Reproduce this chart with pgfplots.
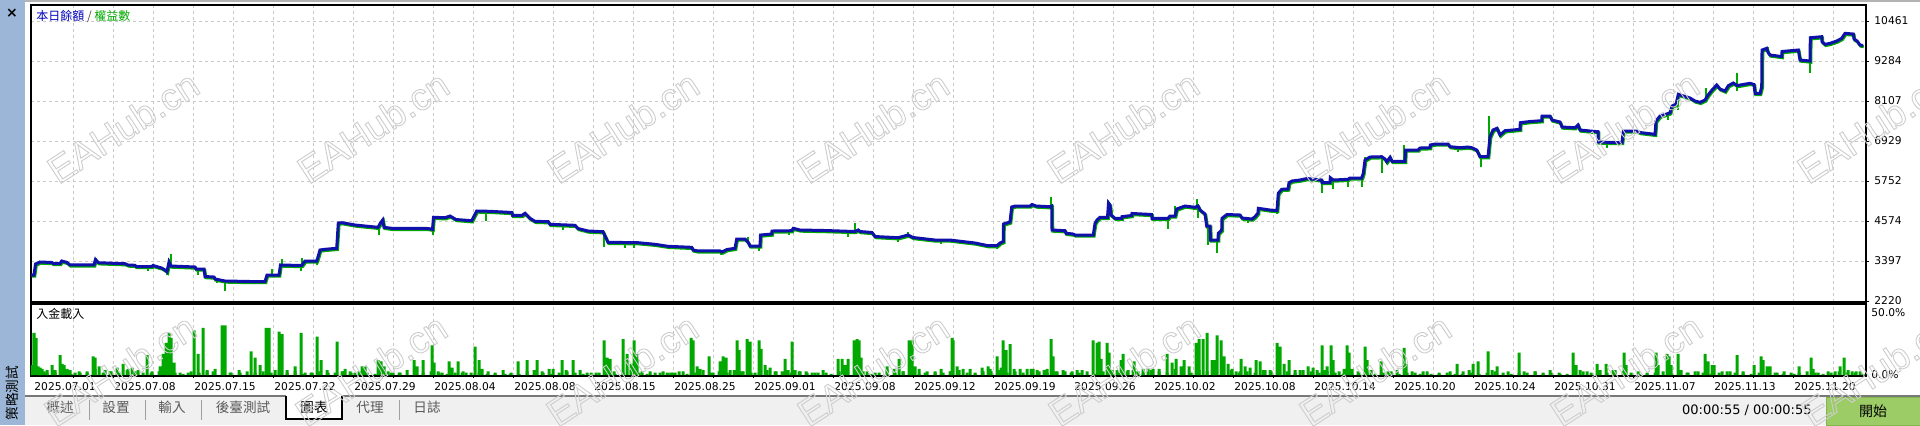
\documentclass[border=0pt]{standalone}
\usepackage{fontspec}
\setmainfont{DejaVu Sans}
\newfontfamily\cjk{Noto Sans CJK TC}
\newfontfamily\wmfont{Liberation Sans}
\usepackage{pgfplots}
\usepackage{pgfplotstable}
\pgfplotsset{compat=1.18}
\definecolor{balblue}{RGB}{16,16,170}
\definecolor{eqgreen}{RGB}{0,168,0}
\definecolor{gridc}{RGB}{200,200,200}
\definecolor{sidebar}{RGB}{155,182,214}
\definecolor{tabbg}{RGB}{240,240,240}
\definecolor{tabline}{RGB}{120,120,120}
\definecolor{tabtext}{RGB}{90,90,90}
\definecolor{sepgray}{RGB}{160,160,160}
\definecolor{btngreen}{RGB}{156,204,101}
\definecolor{btnborder}{RGB}{130,180,80}
\definecolor{wm}{RGB}{205,205,205}
\definecolor{titleblue}{RGB}{0,0,190}
\newcommand\tickfont{\fontsize{5.35}{6}\selectfont}
\newcommand\wmtext{\special{pdf:literal direct 1 Tr 0.45 w}EAHub.cn}

\pgfplotstableread{
x v
0 2985
3 2985
4.5 3309
9 3368
21 3353
22 3324
29 3324
30.7 3397
35.7 3359
39 3280
63 3280
64.5 3441
67.3 3347
94 3318
97 3280
104 3271
105 3235
120.7 3235
122 3265
130.7 3191
134 3132
136 3082
138 3368
140 3250
164 3221
165 3162
173 3162
174 2941
183 2926
184 2867
194 2809
219 2794
234 2794
236 2985
248 2985
249.5 3280
270.7 3265
274 3397
285.7 3397
287.3 3544
289 3721
294 3742
305.7 3771
307.3 4516
311 4525
324 4457
334 4427
347 4389
349.5 4516
351.7 4604
353 4389
361 4359
397 4354
401.5 4330
402.5 4683
414 4672
419 4722
425 4619
440.7 4583
445.7 4869
459 4860
480.7 4825
481.5 4742
490.7 4737
494 4801
499 4654
504 4566
517.3 4554
519 4477
544 4448
547 4354
557 4280
572 4260
575 4074
577 3948
607 3936
624 3889
637 3830
660.7 3800
662 3721
667 3692
689 3692
691 3662
696 3736
704 3771
705.7 4045
714 4045
717 3956
719 3839
729 3839
729.5 4162
740.7 4192
741 4280
760.7 4289
762.3 4360
769 4310
794 4295
824 4265
827.3 4310
829 4265
841 4236
844 4118
867 4083
877 4162
882 4089
904 4015
919 4015
927 3986
944 3927
957 3848
966 3848
969 3927
972.3 3971
972.5 4486
979 4545
980.7 4987
984 5016
999 5016
1001 5060
1005 5016
1019 4995
1020.7 5016
1021 4310
1034 4289
1035 4213
1042 4192
1044 4162
1062.3 4162
1064 4507
1066 4604
1069 4683
1076.5 4683
1077.5 5104
1079 5045
1080 4751
1084 4654
1090.7 4654
1091 4702
1100.7 4737
1101 4796
1120.7 4766
1121 4654
1137 4654
1139 4722
1144 4722
1145.7 4928
1154 5016
1164 4978
1167 5016
1169 4898
1174 4781
1175.7 4427
1179 4427
1179.5 4015
1187 4015
1187.3 4213
1190.7 4310
1191 4654
1196 4766
1209 4751
1211 4663
1221 4633
1224 4702
1227 4810
1227.3 4948
1239 4898
1246 4884
1247.3 5390
1250.7 5508
1257 5516
1258 5702
1261 5752
1269 5781
1276 5825
1290.7 5781
1291 5708
1299 5708
1299.3 5849
1302.3 5781
1317 5802
1319 5840
1330.7 5840
1332.3 5978
1334 6370
1339 6458
1350.7 6467
1354 6399
1355.7 6320
1359 6449
1361 6332
1374 6332
1374.5 6664
1387 6664
1389 6723
1399 6732
1399.3 6811
1404 6841
1417 6841
1419 6762
1429 6732
1437 6752
1440.7 6732
1445.7 6664
1449 6467
1457 6467
1459 7056
1462 7253
1466 7303
1469 7106
1474 7232
1489 7273
1489.3 7468
1499 7503
1510.7 7527
1511 7665
1519 7665
1521 7547
1529 7488
1531 7341
1544 7320
1547 7400
1549 7253
1559 7223
1567 7203
1567.3 6900
1584 6885
1591 6885
1592.3 7223
1605.7 7223
1609 7179
1624 7126
1625 7518
1629 7665
1635.7 7724
1639 7762
1641 7959
1645 8009
1647.3 8304
1651 8268
1659 8195
1664 8106
1669 8068
1674 8136
1677 8283
1681 8430
1685.7 8577
1689 8459
1694 8400
1697.3 8557
1702.3 8636
1706 8562
1719 8627
1723 8592
1724 8333
1729 8333
1730.7 8527
1731 9607
1735.7 9657
1737 9540
1739 9460
1750.7 9416
1751 9563
1767.3 9607
1769 9313
1779 9284
1779.3 9969
1790.7 9999
1791 9852
1794 9775
1799 9804
1805.7 9872
1810.7 9951
1814 10098
1822.3 10078
1823 9931
1826 9872
1829 9754
1832 9740
}\balance

\begin{document}
\begin{tikzpicture}
\useasboundingbox (0,0) rectangle (960pt,-212.5pt);
\clip (0,0) rectangle (960pt,-212.5pt);
\fill[white] (0,0) rectangle (960pt,-212.5pt);
\fill[gray!60] (12.5pt,0) rectangle (960pt,-1pt);
\fill[sidebar] (0,0) rectangle (12.5pt,-212.5pt);
\node at (6pt,-6.5pt) {\fontsize{7}{7}\selectfont\bfseries ×};
\node[rotate=90] at (6pt,-196.5pt) {\cjk\fontsize{6.8}{7}\selectfont 策略測試};
% tab bar
\fill[tabbg] (12.5pt,-198pt) rectangle (960pt,-212.5pt);
\draw[tabline, line width=0.6pt] (12.5pt,-198pt) -- (960pt,-198pt);
\fill[white] (143pt,-197.7pt) rectangle (171pt,-209.5pt);
\draw[black, line width=0.7pt] (143pt,-198pt) -- (143pt,-209.5pt) -- (171pt,-209.5pt) -- (171pt,-198pt);
\foreach \sx in {44.5,72.5,100.5,199.5} {\draw[sepgray, line width=0.5pt] (\sx pt,-200pt) -- (\sx pt,-210pt);}
\begin{scope}[every node/.style={font=\cjk\fontsize{6.8}{7}\selectfont, text=tabtext}]
\node at (30pt,-203.5pt) {概述};
\node at (58pt,-203.5pt) {設置};
\node at (86pt,-203.5pt) {輸入};
\node at (121.5pt,-203.5pt) {後臺測試};
\node[text=black] at (157pt,-203.5pt) {圖表};
\node at (185pt,-203.5pt) {代理};
\node at (213.5pt,-203.5pt) {日誌};
\end{scope}
\node[anchor=east, inner sep=0pt] at (906pt,-205pt) {\fontsize{6.5}{7}\selectfont 00:00:55 / 00:00:55};
\fill[btngreen] (913pt,-198.5pt) rectangle (960pt,-212.5pt);
\draw[btnborder, line width=0.5pt] (913pt,-198.5pt) rectangle (960pt,-212.5pt);
\node at (936.5pt,-205.5pt) {\cjk\fontsize{7}{8}\selectfont 開始};

\begin{axis}[
 at={(15.5pt,-151pt)}, anchor=south west,
 width=917.5pt, height=148.5pt, scale only axis,
 xmin=0, xmax=1835, ymin=2190.5, ymax=10931.8,
 axis line style={line width=0.6pt},
 xtick={42,82,...,1802}, xmajorticks=false, xmajorgrids=true,
 ytick={2220,3397.3,4574.6,5751.9,6929.1,8106.4,9283.7,10461},
 yticklabels={2220,3397,4574,5752,6929,8107,9284,10461},
 ymajorgrids=true,
 ytick pos=right, yticklabel pos=right,
 tick align=outside, major tick length=1.5pt,
 every tick/.style={black, line width=0.5pt},
 major grid style={gridc, dash pattern=on 1.5pt off 1.5pt, line width=0.5pt},
 yticklabel style={anchor=west, inner sep=0pt, xshift=2.5pt, font=\tickfont},
 clip=true,
]
\addplot[eqgreen, line width=1.5pt, xshift=0.4pt, yshift=-0.6pt] table[x=x, y=v] {\balance};
\addplot[eqgreen, line width=1pt, unbounded coords=jump] coordinates {
(2.3,2985) (2.3,2917) (2.3,nan)
(24.7,3353) (24.7,3250) (24.7,nan)
(64.7,3300) (64.7,3477) (64.7,nan)
(117.3,3235) (117.3,3103) (117.3,nan)
(135.7,3100) (135.7,2985) (135.7,nan)
(139.7,3300) (139.7,3603) (139.7,nan)
(166.7,3162) (166.7,2985) (166.7,nan)
(185.7,2850) (185.7,2759) (185.7,nan)
(194,2809) (194,2523) (194,nan)
(227.3,2794) (227.3,2720) (227.3,nan)
(240.7,2985) (240.7,3153) (240.7,nan)
(250.7,3280) (250.7,3447) (250.7,nan)
(270,3265) (270,3103) (270,nan)
(271.3,3300) (271.3,3477) (271.3,nan)
(286.3,3400) (286.3,3280) (286.3,nan)
(348.3,4389) (348.3,4162) (348.3,nan)
(401.7,4162) (401.7,4722) (401.7,nan)
(455,4860) (455,4583) (455,nan)
(531.7,4448) (531.7,4310) (531.7,nan)
(573.3,4260) (573.3,3818) (573.3,nan)
(594,3936) (594,3771) (594,nan)
(603.3,3936) (603.3,3771) (603.3,nan)
(690,3692) (690,3574) (690,nan)
(717.3,3956) (717.3,4112) (717.3,nan)
(728,3839) (728,3700) (728,nan)
(758,4289) (758,4162) (758,nan)
(816.7,4265) (816.7,4095) (816.7,nan)
(824,4265) (824,4507) (824,nan)
(867.3,4083) (867.3,3948) (867.3,nan)
(877.3,4162) (877.3,4245) (877.3,nan)
(910,4015) (910,3897) (910,nan)
(965.7,3848) (965.7,3742) (965.7,nan)
(1020,5000) (1020,5272) (1020,nan)
(1078,5060) (1078,5143) (1078,nan)
(1136.7,4654) (1136.7,4330) (1136.7,nan)
(1144,4722) (1144,5016) (1144,nan)
(1165.7,4990) (1165.7,5213) (1165.7,nan)
(1166.7,5016) (1166.7,4654) (1166.7,nan)
(1176.7,4427) (1176.7,3868) (1176.7,nan)
(1186.3,4015) (1186.3,3642) (1186.3,nan)
(1217.3,4640) (1217.3,4507) (1217.3,nan)
(1245.7,4884) (1245.7,4781) (1245.7,nan)
(1291.3,5708) (1291.3,5390) (1291.3,nan)
(1302.3,5781) (1302.3,5508) (1302.3,nan)
(1316.7,5802) (1316.7,5585) (1316.7,nan)
(1331.3,5840) (1331.3,5585) (1331.3,nan)
(1334,6370) (1334,6467) (1334,nan)
(1351.3,6467) (1351.3,5978) (1351.3,nan)
(1373.3,6332) (1373.3,6811) (1373.3,nan)
(1427.3,6732) (1427.3,6614) (1427.3,nan)
(1450,6467) (1450,6155) (1450,nan)
(1458,6467) (1458,7665) (1458,nan)
(1575.7,6885) (1575.7,6714) (1575.7,nan)
(1637.3,7724) (1637.3,7547) (1637.3,nan)
(1647.3,8009) (1647.3,7841) (1647.3,nan)
(1675,8136) (1675,8480) (1675,nan)
(1705.7,8400) (1705.7,8921) (1705.7,nan)
(1737.3,9540) (1737.3,9706) (1737.3,nan)
(1779,9284) (1779,8921) (1779,nan)
};
\addplot[balblue, line width=1.5pt] table[x=x, y=v] {\balance};
\end{axis}

\fill[white] (12.5pt,-151.75pt) rectangle (960pt,-197.6pt);

\begin{axis}[
 at={(15.5pt,-188pt)}, anchor=south west,
 width=917.5pt, height=36pt, scale only axis,
 xmin=0, xmax=1835, ymin=-0.8, ymax=57.3,
 axis line style={line width=0.6pt},
 xtick={2,82,...,1762},
 xticklabels={2025.07.01,2025.07.08,2025.07.15,2025.07.22,2025.07.29,2025.08.04,2025.08.08,2025.08.15,2025.08.25,2025.09.01,2025.09.08,2025.09.12,2025.09.19,2025.09.26,2025.10.02,2025.10.08,2025.10.14,2025.10.20,2025.10.24,2025.10.31,2025.11.07,2025.11.13,2025.11.20},
 minor xtick={42,82,...,1802},
 xminorgrids=true, xmajorgrids=false, ymajorgrids=false,
 minor grid style={gridc, dash pattern=on 1.5pt off 1.5pt, line width=0.5pt},
 ytick={0,50}, yticklabels={0.0\%,50.0\%},
 ytick pos=right, yticklabel pos=right, xtick pos=left,
 tick align=outside, major tick length=0pt, minor tick length=1pt,
 every tick/.style={black, line width=0.5pt},
 xticklabel style={anchor=north west, inner sep=0pt, yshift=-3pt, xshift=0.5pt, font=\tickfont},
 yticklabel style={anchor=west, inner sep=0pt, xshift=2.5pt, font=\tickfont},
 clip=true,
]
\addplot[ybar, bar width=1.5pt, fill=eqgreen, draw=none] coordinates {
(0,3) (8,2) (16,4) (24,2) (32,3) (40,1) (48,3) (56,2) (64,5) (72,2) (80,3) (88,2) (96,4) (104,3) (112,2) (120,2) (128,3) (136,4) (144,2) (152,1) (160,3) (168,2) (176,3) (184,5) (192,2) (200,2) (208,4) (216,3) (224,2) (232,3) (240,2) (248,4) (256,2) (264,3) (272,1) (280,2) (288,3) (296,4) (304,2) (312,3) (320,2) (328,3)
(336,2) (344,1) (352,3) (360,2) (368,2) (376,4) (384,1) (392,2) (400,3) (408,2) (416,1) (424,2) (432,3) (440,2) (448,2) (456,1) (464,2) (472,4) (480,2) (488,1) (496,3) (504,2) (512,2) (520,1) (528,2) (536,3) (544,2) (552,1) (560,2) (568,2) (576,3) (584,1) (592,2) (600,4) (608,2) (616,1) (624,2) (632,3)
(640,2) (648,3) (656,1) (664,2) (672,4) (680,2) (688,3) (696,2) (704,1) (712,3) (720,2) (728,2) (736,4) (744,3) (752,1) (760,2) (768,3) (776,2) (784,2) (792,4) (800,1) (808,3) (816,2) (824,2) (832,3) (840,1) (848,2) (856,4) (864,2) (872,3) (880,2) (888,1) (896,3) (904,2) (912,2) (920,3) (928,4) (936,2) (944,1) (952,3)
(960,3) (968,4) (976,2) (984,3) (992,2) (1000,5) (1008,3) (1016,2) (1024,3) (1032,4) (1040,2) (1048,2) (1056,3) (1064,1) (1072,3) (1080,4) (1088,2) (1096,3) (1104,3) (1112,2) (1120,4) (1128,3) (1136,2) (1144,5) (1152,3) (1160,2) (1168,4) (1176,3) (1184,2) (1192,3) (1200,4) (1208,2) (1216,3) (1224,2) (1232,4) (1240,3) (1248,2) (1256,3) (1264,2) (1272,4) (1280,3) (1288,2) (1296,3)
(1304,2) (1312,1) (1320,3) (1328,2) (1336,2) (1344,1) (1352,2) (1360,3) (1368,1) (1376,2) (1384,2) (1392,3) (1400,1) (1408,2) (1416,2) (1424,1) (1432,3) (1440,2) (1448,1) (1456,2) (1464,3) (1472,2) (1480,1) (1488,2) (1496,2) (1504,3) (1512,1) (1520,2) (1528,2) (1536,1) (1544,2) (1552,3) (1560,2) (1568,1) (1576,2) (1584,2) (1592,3) (1600,2) (1608,1) (1616,2) (1624,2) (1632,3) (1640,1) (1648,2) (1656,2) (1664,3) (1672,2) (1680,1) (1688,2) (1696,3) (1704,2) (1712,2) (1720,1) (1728,2) (1736,3) (1744,2) (1752,1) (1760,2) (1768,2) (1776,3) (1784,2) (1792,1) (1800,2) (1808,3) (1816,2) (1824,2) (1832,1)
};
\addplot[ybar, bar width=1.5pt, fill=eqgreen, draw=none] coordinates {
(1,8) (3,34) (5,30) (7,7) (9,6) (11,5) (13,3) (16,2) (21,8) (24,4) (29,16) (31,9) (33,8) (36,5) (39,4) (44,2) (49,2) (56,3) (62,15) (64,14) (68,7) (74,4) (79,3) (86,6) (92,9) (97,5) (101,6) (107,4) (116,16) (121,3) (129,7) (132,17) (135,26) (138,34) (140,30) (143,10) (149,2) (157,2) (163,36) (167,17) (172,38) (176,4) (182,3) (191,40) (194,40) (199,2) (209,2) (220,19) (224,14) (229,8) (235,38) (238,38) (244,4) (248,35) (251,33) (256,4) (264,7) (270,34) (274,2) (281,2) (286,31) (290,12) (297,2) (306,27) (311,3)
(314,5) (319,3) (324,2) (331,7) (334,7) (347,12) (350,11) (353,7) (357,3) (362,2) (369,2) (383,12) (386,7) (392,12) (401,24) (403,10) (407,3) (411,2) (418,11) (421,6) (427,11) (431,2) (435,2) (444,23) (448,12) (451,5) (457,3) (464,1) (474,1) (479,1) (487,11) (496,12) (503,4) (506,12) (511,3) (518,5) (522,5) (531,12) (535,4) (542,12) (549,4) (556,2) (565,2) (573,28) (576,14) (579,13) (583,3) (592,29) (596,17) (600,9) (603,28) (606,17) (611,3) (619,3) (629,2) (637,2) (644,2)
(636,2) (642,2) (652,3) (660,30) (662,28) (666,7) (669,5) (678,15) (682,2) (689,11) (692,15) (695,14) (699,4) (703,4) (706,28) (708,20) (711,3) (716,29) (719,27) (724,2) (728,28) (730,21) (734,8) (739,6) (745,3) (751,3) (754,13) (757,4) (761,27) (764,4) (769,3) (775,3) (781,2) (787,2) (795,2) (807,13) (811,13) (814,8) (817,13) (823,28) (826,29) (828,28) (830,14) (836,3) (844,2) (856,7) (863,5) (868,13) (872,3) (878,28) (881,28) (884,7) (888,5) (894,2) (904,3) (910,5) (919,3) (921,30) (922,28) (926,7) (932,5) (939,5) (944,2) (951,6)
(957,7) (959,5) (966,15) (970,6) (972,28) (975,20) (979,25) (983,5) (989,5) (996,5) (1002,5) (1006,4) (1013,4) (1016,5) (1020,29) (1022,15) (1026,3) (1034,3) (1041,3) (1046,4) (1051,4) (1062,28) (1066,26) (1068,27) (1070,13) (1076,26) (1078,18) (1081,4) (1086,4) (1090,12) (1092,17) (1097,4) (1102,4) (1103,11) (1107,3) (1112,5) (1117,5) (1122,5) (1128,5) (1136,17) (1141,10) (1145,13) (1150,7) (1153,12) (1158,7) (1165,26) (1168,29) (1172,29) (1176,34) (1181,12) (1183,12) (1186,32) (1190,28) (1193,15) (1197,9) (1201,5) (1205,3) (1209,3) (1210,13) (1214,7) (1219,6) (1225,12) (1229,11) (1234,4) (1239,4) (1246,26) (1249,23) (1253,9) (1258,12) (1264,4) (1269,4) (1277,7) (1282,6)
(1286,4) (1291,24) (1293,4) (1296,7) (1300,24) (1302,12) (1308,3) (1313,5) (1316,24) (1318,18) (1321,5) (1327,3) (1334,23) (1336,12) (1340,4) (1350,11) (1357,3) (1366,4) (1373,22) (1375,9) (1381,3) (1389,1) (1396,3) (1408,1) (1419,3) (1426,9) (1431,1) (1438,4) (1442,9) (1447,11) (1457,19) (1461,4) (1466,7) (1477,3) (1488,18) (1493,3) (1504,3) (1512,2) (1519,4) (1529,1) (1542,18) (1545,8) (1549,4) (1556,3) (1566,9) (1569,4)
(1575,9) (1582,4) (1584,4) (1593,18) (1595,8) (1607,3) (1616,1) (1625,18) (1627,8) (1636,17) (1638,15) (1640,8) (1647,17) (1650,4) (1657,2) (1667,3) (1674,17) (1677,11) (1681,8) (1683,8) (1691,3) (1699,3) (1706,16) (1712,3) (1723,8) (1730,15) (1732,12) (1736,7) (1739,7) (1746,2) (1753,3) (1763,1) (1768,7) (1780,14) (1782,5) (1787,2) (1797,3) (1804,3) (1809,7) (1813,14) (1817,4) (1821,3) (1825,3) (1829,3)
};
\end{axis}

\node[anchor=west, inner sep=0pt] at (18pt,-8pt) {\cjk\fontsize{6}{7}\selectfont\textcolor{titleblue}{本日餘額} \textcolor{black!70}{/} \textcolor{eqgreen}{權益數}};
\node[anchor=west, inner sep=0pt] at (18pt,-157pt) {\cjk\fontsize{6}{7}\selectfont 入金載入};
% watermarks (outlined, on top)
\foreach \k in {0,...,7} {\node[rotate=33, text=wm, font=\wmfont\fontsize{19}{19}\selectfont] at ({61.5pt+125pt*\k},-63.5pt) {\wmtext};}
\foreach \k in {0,...,7} {\node[rotate=33, text=wm, font=\wmfont\fontsize{19}{19}\selectfont] at ({60pt+125.5pt*\k},-185pt) {\wmtext};}
\end{tikzpicture}
\end{document}
